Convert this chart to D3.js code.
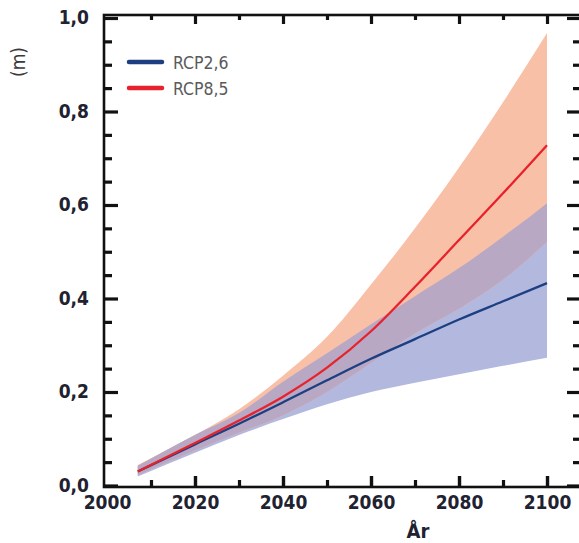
<!DOCTYPE html>
<html><head><meta charset="utf-8">
<script src="https://cdn.jsdelivr.net/npm/d3@7"></script>
<style>
html,body{margin:0;padding:0;background:#fff;}
svg{display:block;}
text{font-family:"Liberation Sans Narrow","DejaVu Sans Condensed","Roboto Condensed",sans-serif;}
</style></head>
<body>
<svg id="chart" width="579" height="543"></svg>
<script>
const years = [2007, 2020, 2030, 2040, 2050, 2060, 2070, 2080, 2090, 2100];
const rcp26 = [0.03, 0.088, 0.132, 0.178, 0.225, 0.271, 0.313, 0.355, 0.394, 0.433];
const rcp26Low = [0.019, 0.07, 0.108, 0.142, 0.174, 0.2, 0.22, 0.238, 0.256, 0.273];
const rcp26High = [0.042, 0.108, 0.155, 0.222, 0.283, 0.345, 0.405, 0.465, 0.532, 0.604];
const rcp85 = [0.03, 0.091, 0.139, 0.19, 0.252, 0.33, 0.425, 0.525, 0.625, 0.728];
const rcp85Low = [0.022, 0.075, 0.113, 0.15, 0.2, 0.262, 0.325, 0.378, 0.44, 0.521];
const rcp85High = [0.044, 0.108, 0.163, 0.235, 0.318, 0.43, 0.55, 0.68, 0.82, 0.968];
const seriesNames = ["RCP2,6", "RCP8,5"];
const xTicks = [2000, 2020, 2040, 2060, 2080, 2100];
const yTicks = [0, 0.2, 0.4, 0.6, 0.8, 1.0];
const xLabel = "År";
const yLabel = "(m)";

const svg = d3.select("#chart");
const L = 104, R = 579, T = 15, B = 487;
const x = d3.scaleLinear().domain([1999.32, 2107.27]).range([L, R]);
const y = d3.scaleLinear().domain([-0.0032, 1.0064]).range([B, T]);
const loc = d3.formatLocale({decimal: ",", thousands: ".", grouping: [3], currency: ["", ""]});
const fmt = loc.format(".1f");

const rows = years.map((yr, i) => ({yr, b: rcp26[i], bl: rcp26Low[i], bh: rcp26High[i], r: rcp85[i], rl: rcp85Low[i], rh: rcp85High[i]}));
const curve = d3.curveMonotoneX;

// bands
svg.append("path").datum(rows).attr("fill", "#b3b8df")
  .attr("d", d3.area().curve(curve).x(d => x(d.yr)).y0(d => y(d.bl)).y1(d => y(d.bh)));
svg.append("path").datum(rows).attr("fill", "#f9c0a8")
  .attr("d", d3.area().curve(curve).x(d => x(d.yr)).y0(d => y(d.rl)).y1(d => y(d.rh)));
svg.append("path").datum(rows).attr("fill", "#b8a8c4")
  .attr("d", d3.area().curve(curve).x(d => x(d.yr))
    .y0(d => y(Math.max(d.rl, d.bl))).y1(d => y(Math.max(Math.max(d.rl, d.bl), Math.min(d.rh, d.bh)))));

// lines
svg.append("path").datum(rows).attr("fill", "none").attr("stroke", "#1b3f80").attr("stroke-width", 2.3)
  .attr("d", d3.line().curve(curve).x(d => x(d.yr)).y(d => y(d.b)));
svg.append("path").datum(rows).attr("fill", "none").attr("stroke", "#e8222c").attr("stroke-width", 2.3)
  .attr("d", d3.line().curve(curve).x(d => x(d.yr)).y(d => y(d.r)));

// frame
svg.append("rect").attr("x", L).attr("y", T).attr("width", R - L + 2).attr("height", B - T)
  .attr("fill", "none").attr("stroke", "#111").attr("stroke-width", 2.6);

const minorY = d3.range(0, 1.0001, 0.05).filter(v => Math.abs(v * 5 - Math.round(v * 5)) > 1e-6);
const minorX = d3.range(2010, 2101, 20);
function styleAxis(g, w) {
  g.select(".domain").remove();
  g.selectAll(".tick line").attr("stroke", "#111").attr("stroke-width", w);
}
// left axis
svg.append("g").attr("transform", `translate(${L},0)`)
  .call(d3.axisLeft(y).tickValues(yTicks).tickSizeInner(-14).tickSizeOuter(0).tickPadding(15).tickFormat(fmt))
  .call(g => { styleAxis(g, 3.2); g.selectAll(".tick line").attr("x1", 0);
    g.selectAll("text").attr("font-size", 19).attr("font-weight", "bold").attr("fill", "#1f2230").attr("dy", "0.3em"); });
svg.append("g").attr("transform", `translate(${L},0)`)
  .call(d3.axisLeft(y).tickValues(minorY).tickSizeInner(-8).tickSizeOuter(0).tickFormat(""))
  .call(g => styleAxis(g, 3.2));
// right axis
svg.append("g").attr("transform", `translate(${R},0)`)
  .call(d3.axisRight(y).tickValues(yTicks).tickSizeInner(-12).tickSizeOuter(0).tickFormat(""))
  .call(g => styleAxis(g, 3.2));
svg.append("g").attr("transform", `translate(${R},0)`)
  .call(d3.axisRight(y).tickValues(minorY).tickSizeInner(-6).tickSizeOuter(0).tickFormat(""))
  .call(g => styleAxis(g, 3.2));
// bottom axis
svg.append("g").attr("transform", `translate(0,${B})`)
  .call(d3.axisBottom(x).tickValues(xTicks).tickSizeInner(-11).tickSizeOuter(0).tickPadding(9).tickFormat(d3.format("d")))
  .call(g => { styleAxis(g, 3.4); g.selectAll(".tick").filter(d => d === 2000).select("line").remove();
    g.selectAll("text").attr("font-size", 19).attr("font-weight", "bold").attr("fill", "#1f2230"); });
svg.append("g").attr("transform", `translate(0,${B})`)
  .call(d3.axisBottom(x).tickValues(minorX).tickSizeInner(-7).tickSizeOuter(0).tickFormat(""))
  .call(g => styleAxis(g, 3.2));
// top axis
svg.append("g").attr("transform", `translate(0,${T})`)
  .call(d3.axisTop(x).tickValues(xTicks.filter(v => v > 2000)).tickSizeInner(-9).tickSizeOuter(0).tickFormat(""))
  .call(g => styleAxis(g, 3.2));
svg.append("g").attr("transform", `translate(0,${T})`)
  .call(d3.axisTop(x).tickValues(minorX).tickSizeInner(-5).tickSizeOuter(0).tickFormat(""))
  .call(g => styleAxis(g, 3.2));

// axis titles
svg.append("text").attr("x", 418).attr("y", 538).attr("text-anchor", "middle")
  .attr("font-size", 20).attr("font-weight", "bold").attr("fill", "#1f2230").text(xLabel);
svg.append("text").attr("transform", "translate(25,62) rotate(-90)").attr("text-anchor", "middle")
  .attr("font-size", 19).attr("fill", "#3a3a3a").text(yLabel);

// legend
const legColors = ["#1b3f80", "#e8222c"];
seriesNames.forEach((n, i) => {
  const ly = 62 + i * 26;
  svg.append("line").attr("x1", 129).attr("x2", 162).attr("y1", ly).attr("y2", ly)
    .attr("stroke", legColors[i]).attr("stroke-width", 4.5).attr("stroke-linecap", "round");
  svg.append("text").attr("x", 173).attr("y", ly + 6.5).attr("font-size", 17.5).attr("fill", "#5a5a5a").text(n);
});
</script>
</body></html>
